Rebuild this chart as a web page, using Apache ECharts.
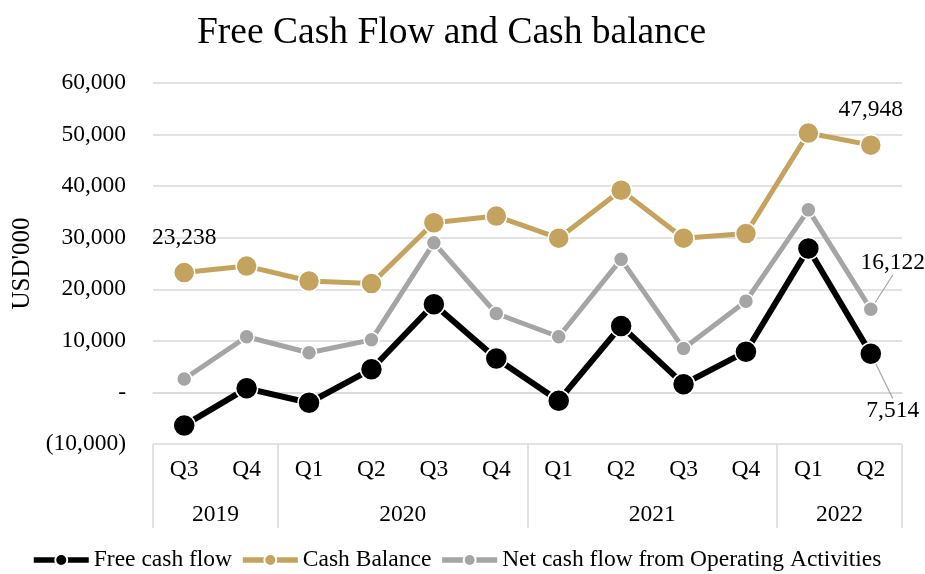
<!DOCTYPE html>
<html lang="en">
<head>
    <meta charset="UTF-8">
    <title>Free Cash Flow and Cash balance</title>
    <script src="https://cdn.jsdelivr.net/npm/echarts@6/dist/echarts.min.js"></script>
    <style>
        html, body { margin: 0; padding: 0; background: #fff; }
    </style>
</head>
<body>
<div id="main" style="width: 925px;height:574px;"></div>
<script type="text/javascript">
    // 数据
    var quarters = ['Q3', 'Q4', 'Q1', 'Q2', 'Q3', 'Q4', 'Q1', 'Q2', 'Q3', 'Q4', 'Q1', 'Q2'];
    var years = ['2019', '2020', '2021', '2022'];
    var yearSpan = [2, 4, 4, 2];   // quarters per year
    var freeCashFlow = [-6400, 800, -2000, 4500, 17100, 6600, -1600, 12900, 1600, 7900, 27900, 7514];
    var cashBalance = [23238, 24500, 21600, 21100, 32900, 34200, 29900, 39200, 29900, 30800, 50300, 47948];
    var opsCashFlow = [2600, 10800, 7700, 10200, 29000, 15300, 10800, 25800, 8500, 17700, 35400, 16122];
    var yTicks = [-10000, 0, 10000, 20000, 30000, 40000, 50000, 60000];

    var font = '"Liberation Serif", "Times New Roman", serif';
    var fs = 23.5;

    // year axis: half-quarter steps, labels at year centres, ticks at year edges
    var yearCats = [];
    var yearEdges = [0];
    var pos = 0;
    for (var i = 0; i <= quarters.length * 2; i++) yearCats.push('');
    for (var k = 0; k < years.length; k++) {
        yearCats[pos + yearSpan[k]] = years[k];
        pos += yearSpan[k] * 2;
        yearEdges.push(pos);
    }

    function fmt(v) {
        if (v === 0) return '-';
        var s = Math.abs(v).toLocaleString('en-US');
        return v < 0 ? '(' + s + ')' : s;
    }

    function lastLabel(arr, label) {
        return arr.map(function (v, i) {
            if (i === label.index) {
                return { value: v, label: label.opt };
            }
            return v;
        });
    }

    var myChart = echarts.init(document.getElementById('main'));

    var cashData = cashBalance.map(function (v, i) {
        if (i === 0 || i === cashBalance.length - 1) {
            return { value: v, label: { show: true, position: 'top', distance: 12 } };
        }
        return v;
    });
    var opsData = lastLabel(opsCashFlow, { index: opsCashFlow.length - 1, opt: { show: true, position: 'top' } });
    var fcfData = lastLabel(freeCashFlow, { index: freeCashFlow.length - 1, opt: { show: true, position: 'bottom' } });

    var option = {
        backgroundColor: '#fff',
        textStyle: { fontFamily: font, color: '#000' },
        title: {
            text: 'Free Cash Flow and Cash balance',
            left: 192,
            top: 9,
            textStyle: { fontFamily: font, fontSize: 37.5, fontWeight: 'normal', color: '#000' }
        },
        legend: {
            bottom: -3,
            left: 26,
            itemWidth: 55,
            itemHeight: 15,
            itemGap: 8,
            lineStyle: { width: 5.5 },
            textStyle: { fontFamily: font, fontSize: fs, color: '#000' },
            data: ['Free cash flow', 'Cash Balance', 'Net cash flow from Operating Activities']
        },
        grid: { left: 153, right: 23, top: 83, bottom: 130 },
        xAxis: [{
            type: 'category',
            position: 'bottom',
            data: quarters,
            axisLine: { lineStyle: { color: '#D9D9D9', width: 1.5 } },
            axisTick: { show: false },
            axisLabel: { fontFamily: font, fontSize: fs, color: '#000', margin: 14, interval: 0 }
        }, {
            type: 'category',
            position: 'bottom',
            boundaryGap: false,
            data: yearCats,
            axisLine: { show: false },
            axisTick: {
                show: true,
                length: 84,
                interval: function (idx) { return yearEdges.indexOf(idx) >= 0; },
                lineStyle: { color: '#D9D9D9', width: 1.5 }
            },
            axisLabel: { fontFamily: font, fontSize: fs, color: '#000', margin: 59, interval: 0 },
            splitLine: { show: false }
        }],
        yAxis: {
            type: 'value',
            min: yTicks[0],
            max: yTicks[yTicks.length - 1],
            interval: 10000,
            name: "USD'000",
            nameLocation: 'middle',
            nameRotate: 90,
            nameGap: 118,
            nameTextStyle: { fontFamily: font, fontSize: 25, color: '#000' },
            axisLine: { show: false },
            axisTick: { show: false },
            axisLabel: { fontFamily: font, fontSize: fs, color: '#000', margin: 27, formatter: fmt },
            splitLine: { lineStyle: { color: '#D9D9D9', width: 1.5 } }
        },
        series: [{
            name: 'Free cash flow',
            type: 'line',
            data: fcfData,
            color: '#000000',
            symbol: 'circle',
            symbolSize: 22,
            lineStyle: { width: 6, color: '#000000' },
            itemStyle: { color: '#000000', borderColor: '#fff', borderWidth: 1.5 },
            label: { fontFamily: font, fontSize: fs, color: '#000', formatter: function (p) { return fmt(p.value); } },
            labelLine: { show: true, lineStyle: { color: '#A5A5A5', width: 1.2 } },
            labelLayout: function (p) {
                if (p.dataIndex === freeCashFlow.length - 1) return { dx: 22, dy: 28 };
            },
            z: 4
        }, {
            name: 'Cash Balance',
            type: 'line',
            data: cashData,
            color: '#C4A35F',
            symbol: 'circle',
            symbolSize: 21,
            lineStyle: { width: 5, color: '#C4A35F' },
            itemStyle: { color: '#C4A35F', borderColor: '#fff', borderWidth: 1.5 },
            label: { fontFamily: font, fontSize: fs, color: '#000', formatter: function (p) { return fmt(p.value); } },
            z: 3
        }, {
            name: 'Net cash flow from Operating Activities',
            type: 'line',
            data: opsData,
            color: '#A5A5A5',
            symbol: 'circle',
            symbolSize: 15,
            lineStyle: { width: 5, color: '#A5A5A5' },
            itemStyle: { color: '#A5A5A5', borderColor: '#fff', borderWidth: 1.5 },
            label: { fontFamily: font, fontSize: fs, color: '#000', formatter: function (p) { return fmt(p.value); } },
            labelLine: { show: true, lineStyle: { color: '#A5A5A5', width: 1.2 } },
            labelLayout: function (p) {
                if (p.dataIndex === opsCashFlow.length - 1) return { dx: 22, dy: -21 };
            },
            z: 3
        }]
    };

    myChart.setOption(option);
</script>
</body>
</html>
